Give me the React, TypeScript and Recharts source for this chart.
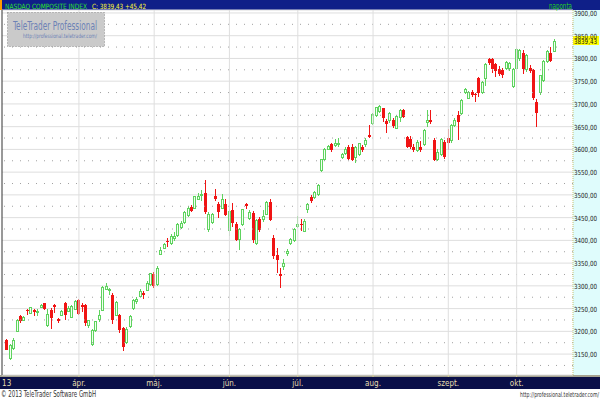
import React from "react";
import {
  ComposedChart,
  Bar,
  XAxis,
  YAxis,
  CartesianGrid,
  ReferenceLine,
} from "recharts";

// trading days per month (2013)
const tradingDays: [string, number[]][] = [
  ["02", [28]],
  ["03", [1, 4, 5, 6, 7, 8, 11, 12, 13, 14, 15, 18, 19, 20, 21, 22, 25, 26, 27, 28]],
  ["04", [1, 2, 3, 4, 5, 8, 9, 10, 11, 12, 15, 16, 17, 18, 19, 22, 23, 24, 25, 26, 29, 30]],
  ["05", [1, 2, 3, 6, 7, 8, 9, 10, 13, 14, 15, 16, 17, 20, 21, 22, 23, 24, 28, 29, 30, 31]],
  ["06", [3, 4, 5, 6, 7, 10, 11, 12, 13, 14, 17, 18, 19, 20, 21, 24, 25, 26, 27, 28]],
  ["07", [1, 2, 3, 5, 8, 9, 10, 11, 12, 15, 16, 17, 18, 19, 22, 23, 24, 25, 26, 29, 30, 31]],
  ["08", [1, 2, 5, 6, 7, 8, 9, 12, 13, 14, 15, 16, 19, 20, 21, 22, 23, 26, 27, 28, 29, 30]],
  ["09", [3, 4, 5, 6, 9, 10, 11, 12, 13, 16, 17, 18, 19, 20, 23, 24, 25, 26, 27, 30]],
  ["10", [1, 2, 3, 4, 7, 8, 9, 10, 11, 14, 15, 16]],
];

const opens = [
  3181,
  3142, 3163, 3201, 3233, 3225, 3247, 3240, 3248, 3244, 3253, 3262, 3214, 3248, 3257, 3228, 3236, 3262, 3245, 3232, 3249,
  3269, 3258, 3257, 3214, 3172, 3203, 3228, 3246, 3293, 3290, 3280, 3237, 3236, 3208, 3176, 3212, 3252, 3266, 3278, 3284, 3290, 3305,
  3327, 3305, 3370, 3383, 3399, 3394, 3406, 3412, 3430, 3440, 3456, 3474, 3472, 3492, 3500, 3504, 3425, 3440, 3498, 3480, 3472, 3480,
  3423, 3467, 3435, 3403, 3436, 3480, 3450, 3460, 3394, 3447, 3446, 3458, 3485, 3405, 3368, 3325, 3344, 3372, 3395, 3400,
  3432, 3437, 3420, 3469, 3496, 3495, 3502, 3555, 3579, 3601, 3612, 3609, 3611, 3584, 3592, 3606, 3606, 3583, 3590, 3605, 3612, 3631,
  3657, 3675, 3684, 3690, 3662, 3664, 3665, 3648, 3671, 3686, 3627, 3623, 3606, 3598, 3605, 3612, 3660, 3664, 3620, 3579, 3590, 3616,
  3624, 3620, 3653, 3675, 3679, 3726, 3714, 3726, 3722, 3756, 3726, 3756, 3798, 3798, 3788, 3776, 3774, 3778, 3778, 3739,
  3778, 3800, 3812, 3776, 3778, 3774, 3704, 3726, 3752, 3795, 3811, 3817,
];

const highs = [
  3184,
  3172, 3185, 3227, 3235, 3234, 3250, 3254, 3249, 3249, 3260, 3263, 3250, 3252, 3260, 3230, 3248, 3264, 3255, 3258, 3269,
  3272, 3262, 3260, 3226, 3206, 3223, 3246, 3299, 3307, 3296, 3284, 3267, 3238, 3210, 3210, 3236, 3271, 3275, 3292, 3288, 3310, 3329,
  3330, 3343, 3385, 3395, 3405, 3414, 3418, 3438, 3442, 3465, 3475, 3478, 3498, 3504, 3511, 3533, 3462, 3460, 3513, 3484, 3503, 3490,
  3468, 3482, 3440, 3427, 3470, 3482, 3466, 3465, 3447, 3452, 3466, 3486, 3490, 3412, 3384, 3340, 3358, 3382, 3406, 3428,
  3454, 3446, 3446, 3482, 3499, 3508, 3523, 3580, 3602, 3610, 3614, 3623, 3625, 3592, 3606, 3610, 3612, 3608, 3615, 3610, 3624, 3653,
  3680, 3694, 3697, 3692, 3666, 3682, 3670, 3675, 3688, 3689, 3630, 3630, 3612, 3620, 3618, 3644, 3686, 3686, 3624, 3600, 3626, 3620,
  3645, 3655, 3668, 3684, 3710, 3735, 3728, 3730, 3725, 3760, 3750, 3790, 3800, 3802, 3790, 3783, 3778, 3795, 3792, 3778,
  3822, 3820, 3818, 3810, 3786, 3776, 3710, 3764, 3796, 3818, 3825, 3842,
];

const lows = [
  3158,
  3136, 3160, 3199, 3219, 3222, 3236, 3238, 3233, 3233, 3251, 3247, 3210, 3206, 3240, 3218, 3233, 3226, 3243, 3229, 3247,
  3236, 3243, 3212, 3208, 3168, 3199, 3220, 3244, 3290, 3280, 3216, 3235, 3197, 3157, 3172, 3208, 3248, 3260, 3275, 3270, 3288, 3300,
  3296, 3300, 3368, 3380, 3385, 3390, 3398, 3408, 3424, 3436, 3452, 3462, 3470, 3488, 3486, 3458, 3418, 3435, 3486, 3450, 3468, 3454,
  3410, 3430, 3398, 3379, 3432, 3468, 3445, 3395, 3389, 3418, 3440, 3455, 3442, 3360, 3329, 3296, 3335, 3365, 3390, 3396,
  3428, 3420, 3418, 3460, 3482, 3490, 3498, 3550, 3575, 3598, 3595, 3605, 3605, 3578, 3588, 3576, 3575, 3570, 3585, 3595, 3606, 3624,
  3654, 3672, 3680, 3660, 3636, 3658, 3648, 3645, 3660, 3668, 3602, 3600, 3595, 3594, 3594, 3608, 3649, 3655, 3574, 3575, 3586, 3580,
  3598, 3615, 3650, 3620, 3676, 3722, 3710, 3716, 3704, 3716, 3722, 3740, 3785, 3768, 3760, 3762, 3756, 3775, 3772, 3735,
  3775, 3795, 3765, 3770, 3768, 3708, 3650, 3720, 3748, 3790, 3792, 3815,
];

const closes = [
  3160,
  3170, 3182, 3224, 3222, 3232, 3244, 3253, 3242, 3245, 3259, 3249, 3238, 3229, 3254, 3222, 3245, 3235, 3252, 3256, 3267,
  3239, 3254, 3218, 3224, 3203, 3222, 3237, 3297, 3300, 3294, 3225, 3264, 3204, 3166, 3206, 3233, 3268, 3270, 3289, 3279, 3307, 3328,
  3299, 3340, 3378, 3392, 3396, 3410, 3410, 3437, 3438, 3462, 3471, 3465, 3498, 3497, 3502, 3463, 3459, 3459, 3490, 3462, 3491, 3456,
  3465, 3438, 3401, 3424, 3469, 3475, 3463, 3400, 3444, 3423, 3453, 3484, 3444, 3366, 3356, 3321, 3350, 3377, 3403, 3424,
  3436, 3433, 3443, 3480, 3486, 3506, 3522, 3579, 3601, 3607, 3599, 3613, 3614, 3589, 3600, 3579, 3577, 3606, 3614, 3599, 3620, 3627,
  3677, 3693, 3695, 3668, 3656, 3679, 3651, 3673, 3686, 3671, 3605, 3605, 3599, 3616, 3598, 3642, 3664, 3660, 3576, 3594, 3623, 3583,
  3615, 3653, 3664, 3660, 3708, 3732, 3726, 3719, 3720, 3724, 3748, 3787, 3789, 3777, 3772, 3766, 3763, 3793, 3789, 3776,
  3820, 3818, 3776, 3807, 3773, 3712, 3679, 3763, 3795, 3817, 3794.01, 3839.43,
];

const priceTicks = [3150, 3200, 3250, 3300, 3350, 3400, 3450, 3500, 3550, 3600, 3650, 3700, 3750, 3800, 3850, 3900];
const midLevels = [3125, 3175, 3225, 3275, 3325, 3375, 3425, 3475, 3525, 3575, 3625, 3675, 3725, 3775, 3825, 3875];
const monthStarts = ["2013-04-01", "2013-05-01", "2013-06-03", "2013-07-01", "2013-08-01", "2013-09-03", "2013-10-01"];
const xTickLabels = ["13", "ápr.", "máj.", "jún.", "júl.", "aug.", "szept.", "okt."];

const dates = tradingDays.flatMap(([m, days]) =>
  days.map((d) => `2013-${m}-${String(d).padStart(2, "0")}`)
);
const data = dates.map((d, i) => ({
  d,
  o: opens[i],
  h: highs[i],
  l: lows[i],
  c: closes[i],
  range: [lows[i], highs[i]],
}));
const xTicks = [dates[0], ...monthStarts];
const minorTicks = priceTicks.flatMap((t) => [t - 37.5, t - 25, t - 12.5, t]);
const lastClose = closes[closes.length - 1];
const prevClose = closes[closes.length - 2];

const FONT = "'Liberation Sans Narrow', 'DejaVu Sans Condensed', 'Arial Narrow', sans-serif";
const fmt = (v: number) => v.toFixed(2).replace(".", ",");

const Candle = (props: any) => {
  const { x, y, width, height, payload } = props;
  if (!payload || !height) return null;
  const { o, h, l, c } = payload;
  const toY = (v: number) => y + ((h - v) / (h - l)) * height;
  const p = Math.floor(x + width / 2);
  const up = c >= o;
  const yTop = Math.round(toY(Math.max(o, c)));
  const yBot = Math.round(toY(Math.min(o, c)));
  const color = up ? "#5fd35f" : "#f01414";
  return (
    <g>
      <line
        x1={p + 0.5}
        x2={p + 0.5}
        y1={Math.round(y)}
        y2={Math.round(y + height)}
        stroke={color}
        strokeWidth={1}
      />
      {up ? (
        <rect
          x={p - 0.5}
          y={yTop + 0.5}
          width={2}
          height={Math.max(yBot - yTop, 1)}
          fill="#f2fff2"
          stroke={color}
          strokeWidth={1}
        />
      ) : (
        <rect x={p - 1} y={yTop} width={3} height={Math.max(yBot - yTop, 1)} fill={color} />
      )}
    </g>
  );
};

const MonthTick = (props: any) => {
  const { x, y, payload } = props;
  const i = xTicks.indexOf(payload.value);
  const first = i === 0;
  return (
    <g>
      {!first && <line x1={x} x2={x} y1={y} y2={y + 2} stroke="#d8d090" />}
      <text
        x={first ? x - 5 : x}
        y={y + 11}
        textAnchor={first ? "start" : "middle"}
        fill="#e6deb0"
        fontSize={8}
        fontFamily={FONT}
      >
        {xTickLabels[i]}
      </text>
    </g>
  );
};

const PriceTick = (props: any) => {
  const { x, y, payload } = props;
  return (
    <text
      x={x - 1}
      y={y + 3}
      fontSize={7}
      fill="#1a1a1a"
      fontFamily={FONT}
      textLength={23}
      lengthAdjust="spacingAndGlyphs"
    >
      {fmt(payload.value)}
    </text>
  );
};

const PriceTag = (props: any) => {
  const { viewBox } = props;
  if (!viewBox) return null;
  const right = viewBox.x + viewBox.width;
  return (
    <g>
      <rect x={right} y={viewBox.y - 4.5} width={26} height={9} fill="#ffff00" />
      <text
        x={right + 1}
        y={viewBox.y + 3}
        fontSize={7}
        fill="#111"
        fontFamily={FONT}
        textLength={23}
        lengthAdjust="spacingAndGlyphs"
      >
        {fmt(lastClose)}
      </text>
    </g>
  );
};

export default function App() {
  return (
    <div
      style={{
        position: "fixed",
        left: 0,
        top: 0,
        width: 600,
        height: 400,
        background: "#fff",
        overflow: "hidden",
      }}
    >
      <svg style={{ position: "absolute", left: 0, top: 0 }} width={600} height={400}>
        <rect x={0} y={0} width={600} height={10} fill="#0f1f88" />
        <rect x={0} y={0} width={2} height={10} fill="#ff9a00" />
        <rect x={573} y={10} width={27} height={365} fill="#dffcfc" />
        <rect x={0} y={375} width={600} height={2} fill="#a4a290" />
        <rect x={0} y={377} width={600} height={12} fill="#0a0f48" />
      </svg>

      <div style={{ position: "absolute", left: 0, top: 0 }}>
        <ComposedChart
          width={600}
          height={400}
          data={data}
          margin={{ top: 10, right: 0, bottom: 11, left: 0 }}
        >
          <CartesianGrid vertical={false} stroke="#dedede" />
          <XAxis
            dataKey="d"
            ticks={xTicks}
            interval={0}
            height={14}
            padding={{ left: 3.4, right: 17 }}
            axisLine={false}
            tickLine={false}
            tickSize={0}
            tickMargin={0}
            tick={<MonthTick />}
          />
          <YAxis
            orientation="right"
            width={27}
            domain={[3104, 3906.5]}
            allowDataOverflow
            ticks={priceTicks}
            interval={0}
            axisLine={{ stroke: "#c8c070", strokeDasharray: "1 1" }}
            tickLine={false}
            tickSize={0}
            tickMargin={2}
            tick={<PriceTick />}
          />
          <YAxis
            yAxisId="left"
            orientation="left"
            width={2}
            domain={[3104, 3906.5]}
            allowDataOverflow
            ticks={minorTicks}
            interval={0}
            tick={false}
            tickSize={2}
            axisLine={{ stroke: "#333" }}
            tickLine={{ stroke: "#333" }}
          />
          {midLevels.map((v) => (
            <ReferenceLine key={v} y={v} stroke="#a0a0a0" strokeDasharray="1 7" />
          ))}
          {monthStarts.map((d) => (
            <ReferenceLine key={d} x={d} stroke="#dedede" />
          ))}
          <Bar
            dataKey="range"
            barSize={3}
            shape={<Candle />}
            isAnimationActive={false}
          />
          <ReferenceLine y={lastClose} stroke="none" label={<PriceTag />} />
        </ComposedChart>
      </div>

      <svg
        style={{ position: "absolute", left: 0, top: 0, pointerEvents: "none" }}
        width={600}
        height={400}
        fontFamily={FONT}
      >
        <text x={5} y={8.5} fontSize={7.2} fill="#2ee02e" textLength={82} lengthAdjust="spacingAndGlyphs">
          NASDAQ COMPOSITE INDEX
        </text>
        <text x={92} y={8.5} fontSize={7.2} fill="#ffff30" textLength={54} lengthAdjust="spacingAndGlyphs">
          {`C: ${fmt(lastClose)} +${fmt(lastClose - prevClose)}`}
        </text>
        <text x={549} y={8.5} fontSize={8} fill="#22d022" textLength={23} lengthAdjust="spacingAndGlyphs">
          naponta
        </text>

        <rect x={7.5} y={12.5} width={97} height={34} fill="#cacaca" stroke="#8c8c8c" strokeDasharray="1 2" />
        <text x={13} y={30} fontSize={11.5} fill="#6d82b6" textLength={84} lengthAdjust="spacingAndGlyphs">
          TeleTrader Professional
        </text>
        <text x={23} y={38} fontSize={6} fill="#6d82b6" textLength={74} lengthAdjust="spacingAndGlyphs">
          http://professional.teletrader.com/
        </text>

        <text x={1} y={397} fontSize={8} fill="#333" textLength={95} lengthAdjust="spacingAndGlyphs">
          © 2013 TeleTrader Software GmbH
        </text>
        <text
          x={599}
          y={396.5}
          fontSize={7}
          fill="#333"
          textAnchor="end"
          textLength={79}
          lengthAdjust="spacingAndGlyphs"
        >
          http://professional.teletrader.com/
        </text>
      </svg>
    </div>
  );
}
